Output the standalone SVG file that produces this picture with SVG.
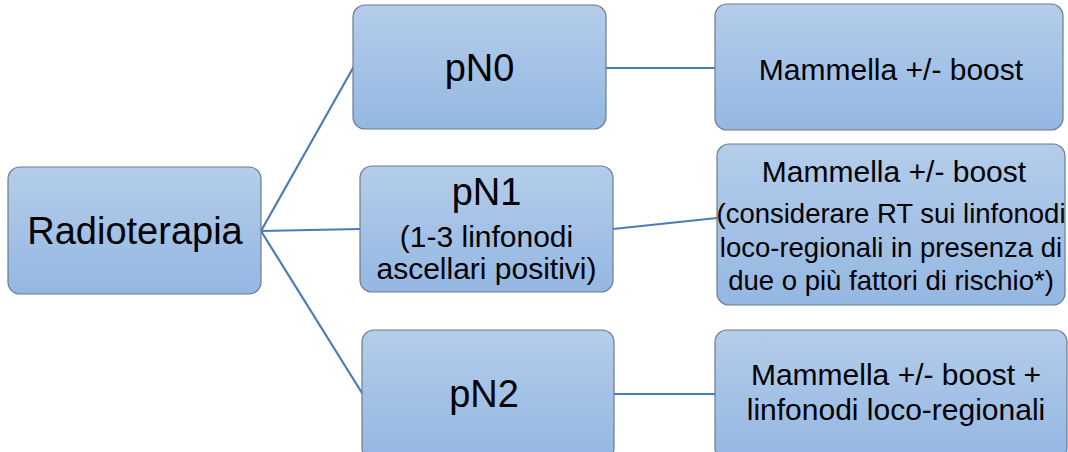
<svg xmlns="http://www.w3.org/2000/svg" width="1068" height="452" viewBox="0 0 1068 452">
  <defs>
    <linearGradient id="boxFill" x1="0" y1="0" x2="0" y2="1">
      <stop offset="0" stop-color="#b4cdea"/>
      <stop offset="1" stop-color="#94b7e2"/>
    </linearGradient>
    <style>
      .box { fill: url(#boxFill); stroke: #6b7c8e; stroke-width: 1.2; }
      .link { stroke: #4a7db3; stroke-width: 2.2; fill: none; stroke-linecap: round; }
      text { font-family: "Liberation Sans", Arial, sans-serif; fill: #000; text-anchor: middle; }
      .big { font-size: 38px; }
      .mid { font-size: 30px; }
      .small { font-size: 27.5px; }
    </style>
  </defs>

  <rect width="1068" height="452" fill="#ffffff"/>

  <!-- connectors -->
  <g id="connectors">
    <line class="link" x1="261" y1="231" x2="353" y2="68"/>
    <line class="link" x1="261" y1="231" x2="360" y2="229"/>
    <line class="link" x1="261" y1="231" x2="362" y2="393"/>
    <line class="link" x1="606" y1="68" x2="715" y2="68"/>
    <line class="link" x1="613" y1="229" x2="717" y2="218"/>
    <line class="link" x1="614" y1="394" x2="715" y2="394"/>
  </g>

  <!-- root -->
  <g id="radioterapia">
    <rect class="box" x="8" y="167" width="253" height="127" rx="12"/>
    <text class="big" x="135" y="244">Radioterapia</text>
  </g>

  <!-- nodal stages -->
  <g id="pN0">
    <rect class="box" x="353" y="5" width="253" height="124" rx="12"/>
    <text class="big" x="479.5" y="81">pN0</text>
  </g>

  <g id="pN1">
    <rect class="box" x="360" y="166" width="253" height="126" rx="12"/>
    <text class="big" x="486.5" y="205">pN1</text>
    <text class="mid" x="486.5" y="247">(1-3 linfonodi</text>
    <text class="mid" x="486.5" y="279">ascellari positivi)</text>
  </g>

  <g id="pN2">
    <rect class="box" x="362" y="330" width="252" height="130" rx="12"/>
    <text class="big" x="484" y="407">pN2</text>
  </g>

  <!-- treatments -->
  <g id="tx-pN0">
    <rect class="box" x="715" y="4" width="348" height="126" rx="12"/>
    <text class="mid" x="891" y="80">Mammella +/- boost</text>
  </g>

  <g id="tx-pN1">
    <rect class="box" x="717" y="144" width="348" height="161" rx="12"/>
    <text class="mid" x="894" y="182">Mammella +/- boost</text>
    <text class="small" x="891" y="223">(considerare RT sui linfonodi</text>
    <text class="small" x="891" y="257">loco-regionali in presenza di</text>
    <text class="small" x="891" y="290">due o più fattori di rischio*)</text>
  </g>

  <g id="tx-pN2">
    <rect class="box" x="715" y="330" width="352" height="130" rx="12"/>
    <text class="mid" x="896" y="385">Mammella +/- boost +</text>
    <text class="mid" x="896" y="420">linfonodi loco-regionali</text>
  </g>
</svg>
